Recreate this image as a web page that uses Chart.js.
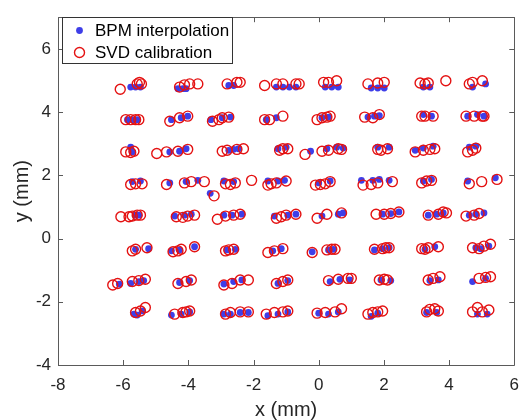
<!DOCTYPE html>
<html>
<head>
<meta charset="utf-8">
<script src="https://cdn.jsdelivr.net/npm/chart.js@4"></script>
<style>
  body { margin: 0; background: #fff; }
  #wrap { width: 529px; height: 420px; }
</style>
</head>
<body>
<div id="wrap"><canvas id="chart"></canvas></div>
<script>
// tick values
const xTicks = [-8, -6, -4, -2, 0, 2, 4, 6]
const yTicks = [-4, -2, 0, 2, 4, 6]

// BPM interpolation, one line per grid row (mm)
const bpmX = [
  [-5.77,-5.62,-5.47,-4.32,-4.17,-4.07,-2.76,-2.61,-1.30,-1.10,-0.90,-0.70,0.20,0.40,0.60,1.61,1.81,2.01,3.21,3.41,4.72,5.12],
  [-5.87,-5.72,-5.57,-4.52,-4.22,-4.02,-3.31,-2.96,-2.71,-1.61,-1.30,0.10,0.30,1.51,1.71,1.86,3.21,3.46,4.57,4.87,5.07],
  [-5.77,-5.72,-4.57,-4.27,-4.07,-2.76,-2.61,-2.46,-1.25,-1.00,-0.25,0.25,0.55,0.75,1.81,2.16,2.96,3.21,3.51,4.62,4.82],
  [-5.72,-5.47,-4.57,-4.07,-3.71,-3.33,-2.91,-2.61,-1.56,-1.25,-1.05,0.00,0.35,1.31,1.66,1.86,2.16,3.21,3.46,4.57,5.42],
  [-5.62,-5.52,-4.42,-4.12,-3.91,-2.91,-2.66,-2.36,-1.36,-0.95,-0.70,0.10,0.60,0.75,1.96,2.21,2.46,3.36,3.62,3.82,4.62,4.82,5.07],
  [-5.62,-5.22,-4.52,-4.27,-3.81,-2.81,-2.56,-1.41,-1.15,-0.20,0.30,0.45,1.71,1.96,2.16,3.26,3.56,4.82,4.97,5.22],
  [-6.12,-5.77,-5.52,-5.37,-4.27,-3.96,-2.91,-2.61,-2.36,-1.25,-0.95,0.35,0.65,0.95,1.91,2.21,3.41,3.67,4.72,5.12],
  [-5.67,-5.57,-5.42,-4.52,-4.22,-3.96,-2.91,-2.71,-2.41,-2.16,-1.56,-1.25,-0.95,0.00,0.30,0.60,1.61,1.81,3.31,3.62,4.87,5.17]
].flat()
const bpmY = [
  [4.79,4.79,4.79,4.74,4.74,4.74,4.84,4.84,4.79,4.79,4.79,4.79,4.79,4.79,4.79,4.76,4.76,4.76,4.79,4.79,4.79,4.89],
  [3.76,3.76,3.76,3.76,3.82,3.87,3.76,3.82,3.84,3.76,3.82,3.82,3.84,3.84,3.87,3.89,3.92,3.87,3.87,3.92,3.87],
  [2.89,2.74,2.74,2.76,2.84,2.79,2.82,2.84,2.84,2.89,2.76,2.84,2.89,2.86,2.89,2.89,2.79,2.86,2.92,2.89,2.92],
  [1.80,1.82,1.76,1.80,1.84,1.43,1.82,1.80,1.82,1.82,1.84,1.76,1.82,1.84,1.84,1.87,1.84,1.82,1.87,1.82,1.92],
  [0.74,0.74,0.71,0.74,0.77,0.74,0.74,0.77,0.71,0.74,0.77,0.71,0.77,0.81,0.77,0.79,0.84,0.74,0.77,0.81,0.74,0.77,0.81],
  [-0.34,-0.32,-0.39,-0.36,-0.26,-0.36,-0.34,-0.39,-0.32,-0.42,-0.36,-0.34,-0.36,-0.32,-0.29,-0.34,-0.26,-0.29,-0.32,-0.24],
  [-1.44,-1.42,-1.36,-1.33,-1.39,-1.33,-1.44,-1.36,-1.31,-1.42,-1.33,-1.36,-1.29,-1.31,-1.31,-1.33,-1.33,-1.31,-1.36,-1.26],
  [-2.39,-2.42,-2.29,-2.42,-2.39,-2.32,-2.39,-2.39,-2.34,-2.34,-2.44,-2.39,-2.32,-2.36,-2.39,-2.32,-2.46,-2.36,-2.34,-2.34,-2.39,-2.39]
].flat()

// SVD calibration
const svdX = [
  [-6.09,-5.57,-5.50,-5.44,-4.27,-4.12,-3.96,-3.71,-2.81,-2.51,-2.41,-1.66,-1.30,-1.10,-0.70,-0.60,0.15,0.30,0.55,1.51,1.81,2.01,3.11,3.26,3.36,3.90,4.62,4.72,5.02],
  [-5.92,-5.77,-5.62,-5.52,-4.57,-4.27,-4.02,-3.26,-3.06,-2.96,-2.76,-1.66,-1.51,-1.10,-0.05,0.10,0.25,0.35,1.41,1.66,1.86,3.16,3.26,3.51,4.52,4.77,5.02,5.07],
  [-5.92,-5.77,-5.67,-4.97,-4.67,-4.32,-4.02,-2.96,-2.81,-2.51,-2.31,-1.20,-1.10,-0.95,-0.42,0.10,0.30,0.60,0.70,1.81,1.91,2.11,2.96,3.21,3.41,3.56,4.57,4.72,4.82],
  [-5.77,-5.62,-5.42,-4.67,-4.12,-3.91,-3.51,-3.21,-2.86,-2.71,-2.56,-2.06,-1.56,-1.46,-1.30,-1.00,-0.10,0.05,0.20,0.35,1.36,1.61,1.81,2.26,3.16,3.31,3.46,4.62,5.00,5.47],
  [-6.07,-5.82,-5.72,-5.57,-5.47,-4.37,-4.17,-4.02,-3.81,-3.11,-2.86,-2.61,-2.41,-1.30,-1.15,-1.00,-0.70,-0.05,0.25,0.70,1.76,2.01,2.21,2.46,3.36,3.67,3.82,3.92,4.52,4.77,4.92],
  [-5.72,-5.62,-5.27,-4.47,-4.32,-4.22,-3.81,-2.86,-2.76,-2.61,-1.56,-1.36,-1.10,-0.20,0.25,0.40,0.50,1.71,1.96,2.06,2.16,3.16,3.26,3.36,3.67,4.72,4.92,5.07,5.27],
  [-6.32,-6.17,-5.72,-5.52,-5.32,-4.32,-4.07,-3.91,-2.91,-2.66,-2.41,-2.16,-1.30,-1.10,-0.95,0.30,0.60,0.90,1.00,1.86,2.01,2.11,3.36,3.51,3.72,4.92,5.12,5.27],
  [-5.62,-5.47,-5.32,-4.42,-4.17,-4.07,-3.96,-2.86,-2.71,-2.41,-2.16,-1.61,-1.36,-1.10,-0.95,-0.05,0.20,0.50,0.70,1.51,1.66,1.81,1.96,3.31,3.41,3.56,3.67,4.72,4.87,5.02,5.22]
].flat()
const svdY = [
  [4.72,4.89,4.94,4.89,4.79,4.86,4.89,4.89,4.89,4.94,4.94,4.84,4.89,4.89,4.89,4.89,4.94,4.94,4.99,4.89,4.92,4.94,4.92,4.89,4.92,4.99,4.89,4.94,4.99],
  [3.76,3.76,3.76,3.76,3.71,3.82,3.87,3.71,3.76,3.82,3.84,3.76,3.76,3.87,3.76,3.82,3.84,3.87,3.84,3.82,3.92,3.87,3.87,3.87,3.87,3.87,3.87,3.87],
  [2.74,2.72,2.76,2.69,2.74,2.76,2.82,2.76,2.79,2.82,2.84,2.79,2.84,2.84,2.66,2.76,2.79,2.84,2.82,2.82,2.79,2.84,2.74,2.79,2.82,2.84,2.74,2.79,2.86],
  [1.71,1.73,1.73,1.71,1.76,1.80,1.80,1.35,1.73,1.71,1.76,1.84,1.69,1.73,1.76,1.82,1.69,1.71,1.73,1.80,1.69,1.71,1.76,1.80,1.76,1.82,1.84,1.73,1.80,1.87],
  [0.69,0.69,0.71,0.74,0.74,0.69,0.67,0.71,0.74,0.61,0.71,0.74,0.77,0.64,0.69,0.74,0.77,0.64,0.77,0.81,0.77,0.77,0.79,0.84,0.74,0.77,0.84,0.81,0.71,0.74,0.79],
  [-0.39,-0.34,-0.29,-0.42,-0.39,-0.34,-0.26,-0.39,-0.36,-0.34,-0.44,-0.39,-0.32,-0.44,-0.36,-0.34,-0.34,-0.34,-0.32,-0.29,-0.29,-0.32,-0.34,-0.29,-0.26,-0.29,-0.32,-0.24,-0.18],
  [-1.47,-1.42,-1.36,-1.33,-1.29,-1.42,-1.36,-1.31,-1.47,-1.42,-1.31,-1.31,-1.42,-1.36,-1.31,-1.33,-1.29,-1.26,-1.26,-1.31,-1.29,-1.31,-1.31,-1.26,-1.21,-1.26,-1.23,-1.21],
  [-2.34,-2.29,-2.18,-2.39,-2.34,-2.32,-2.29,-2.39,-2.34,-2.32,-2.32,-2.39,-2.34,-2.32,-2.29,-2.36,-2.34,-2.32,-2.22,-2.39,-2.34,-2.32,-2.29,-2.32,-2.24,-2.22,-2.29,-2.32,-2.18,-2.32,-2.26]
].flat()

const blue = "rgb(62, 62, 232)"
const red = "rgb(228, 18, 18)"
const axisColor = "#262626"
const boxColor = "#5a5a5a"
const fontFamily = "'Liberation Sans', Arial, sans-serif"

Chart.defaults.font.family = fontFamily
Chart.defaults.color = axisColor

// matlab style box with inward ticks + legend box in the upper left
const matlabAxes = {
  id: "matlabAxes",
  afterDraw(chart) {
    const ctx = chart.ctx
    const {left, right, top, bottom} = chart.chartArea
    const x = chart.scales.x, y = chart.scales.y
    const len = 5
    ctx.save()
    ctx.strokeStyle = boxColor
    ctx.lineWidth = 1
    ctx.beginPath()
    ctx.rect(Math.round(left) + 0.5, Math.round(top) + 0.5, Math.round(right - left), Math.round(bottom - top))
    xTicks.forEach(v => {
      const px = Math.round(x.getPixelForValue(v)) + 0.5
      ctx.moveTo(px, bottom); ctx.lineTo(px, bottom - len)
      ctx.moveTo(px, top); ctx.lineTo(px, top + len)
    })
    yTicks.forEach(v => {
      const py = Math.round(y.getPixelForValue(v)) + 0.5
      ctx.moveTo(left, py); ctx.lineTo(left + len, py)
      ctx.moveTo(right, py); ctx.lineTo(right - len, py)
    })
    ctx.stroke()

    // legend
    const bx = 62.5, by = 17.5, bw = 170, bh = 46
    ctx.fillStyle = "#fff"
    ctx.fillRect(bx, by, bw, bh)
    ctx.strokeStyle = "#333"
    ctx.strokeRect(bx, by, bw, bh)
    const rows = [30.5, 52.5]
    chart.data.datasets.forEach((ds, i) => {
      ctx.beginPath()
      ctx.arc(79.5, rows[i], ds.pointRadius, 0, Math.PI * 2)
      if (ds.borderWidth) {
        ctx.strokeStyle = ds.borderColor
        ctx.lineWidth = ds.borderWidth
        ctx.stroke()
      } else {
        ctx.fillStyle = ds.backgroundColor
        ctx.fill()
      }
      ctx.fillStyle = "#000"
      ctx.font = "17px " + fontFamily
      ctx.textBaseline = "middle"
      ctx.textAlign = "left"
      ctx.fillText(ds.label, 95, rows[i] + 1)
    })
    ctx.restore()
  }
}

const config = {
  type: "scatter",
  data: {
    datasets: [
      {
        label: "BPM interpolation",
        data: bpmX.map((v, i) => ({x: v, y: bpmY[i]})),
        pointStyle: "circle",
        pointRadius: 3.4,
        backgroundColor: blue,
        borderWidth: 0,
        order: 2
      },
      {
        label: "SVD calibration",
        data: svdX.map((v, i) => ({x: v, y: svdY[i]})),
        pointStyle: "circle",
        pointRadius: 5,
        backgroundColor: "rgba(0,0,0,0)",
        borderColor: red,
        borderWidth: 1.4,
        order: 1
      }
    ]
  },
  options: {
    responsive: true,
    maintainAspectRatio: false,
    animation: false,
    events: [],
    layout: { padding: { left: 0, right: 7, top: 8, bottom: 0 } },
    scales: {
      x: {
        type: "linear",
        min: -8,
        max: 6,
        afterBuildTicks: s => { s.ticks = xTicks.map(v => ({value: v})) },
        afterFit: s => { s.height = 55 },
        grid: { display: false, drawTicks: false },
        border: { display: false },
        ticks: { padding: 10, font: { size: 17 }, color: axisColor },
        title: {
          display: true,
          text: "x (mm)",
          font: { size: 20, lineHeight: 1 },
          color: axisColor,
          padding: { top: 0, bottom: 0 }
        }
      },
      y: {
        type: "linear",
        min: -4,
        max: 7,
        afterBuildTicks: s => { s.ticks = yTicks.map(v => ({value: v})) },
        afterFit: s => { s.width = 58 },
        grid: { display: false, drawTicks: false },
        border: { display: false },
        ticks: { padding: 7, font: { size: 17 }, color: axisColor },
        title: {
          display: true,
          text: "y (mm)",
          font: { size: 20, lineHeight: 1 },
          color: axisColor,
          padding: { top: 12, bottom: 0 }
        }
      }
    },
    plugins: {
      legend: { display: false },
      tooltip: { enabled: false }
    }
  },
  plugins: [matlabAxes]
}

const scatterChart = new Chart(document.getElementById("chart"), config)
</script>
</body>
</html>
